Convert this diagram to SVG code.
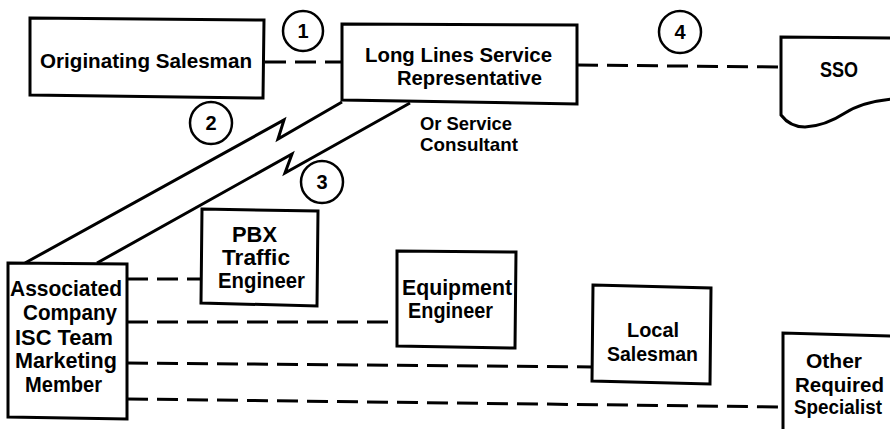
<svg xmlns="http://www.w3.org/2000/svg" width="890" height="429" viewBox="0 0 890 429">
<style>
.bx{fill:#fff;stroke:#000;stroke-width:3;stroke-linejoin:miter}
.ln{fill:none;stroke:#000;stroke-width:3}
.ds{fill:none;stroke:#000;stroke-width:3;stroke-dasharray:21 9}
.ci{fill:#fff;stroke:#000;stroke-width:2.5}
text{font-family:"Liberation Sans",Arial,sans-serif;font-weight:bold;fill:#000}
.t20{font-size:21px}
.t21{font-size:21.5px}
.t19{font-size:20px}
.num{font-size:20px;text-anchor:middle}
.sm{font-size:19px}
</style>
<rect width="890" height="429" fill="#fff"/>
<g id="connectors">
<path class="ds" d="M265,62 L342,62"/>
<path class="ds" d="M577,65 L781,67"/>
<path class="ds" d="M127,279 L202,279"/>
<path class="ds" d="M127,322 L397,322"/>
<path class="ds" d="M127,363 L593,367"/>
<path class="ds" d="M127,399 L783,407"/>
<path class="ln" d="M342,102 L278,139 L284,120 L25,263"/>
<path class="ln" d="M410,103 L285,173 L292,154 L97,263"/>
</g>
<g id="label1"><circle class="ci" cx="303" cy="31" r="20"/><text class="num" x="303" y="38">1</text></g>
<g id="label2"><circle class="ci" cx="211" cy="123" r="21"/><text class="num" x="211" y="130">2</text></g>
<g id="label3"><circle class="ci" cx="322" cy="182" r="21"/><text class="num" x="322" y="189">3</text></g>
<g id="label4"><circle class="ci" cx="680" cy="32" r="21"/><text class="num" x="680" y="39">4</text></g>
<g id="originating-salesman">
<path class="bx" d="M30,18 L264,20 L263,98 L30,95 Z"/>
<text class="t20" x="40" y="68" textLength="212" lengthAdjust="spacingAndGlyphs">Originating Salesman</text>
</g>
<g id="long-lines">
<path class="bx" d="M342,24 L577,25 L577,104 L342,100 Z"/>
<text class="t20" x="365" y="62" textLength="187" lengthAdjust="spacingAndGlyphs">Long Lines Service</text>
<text class="t20" x="397" y="85" textLength="145" lengthAdjust="spacingAndGlyphs">Representative</text>
<text class="sm" x="420" y="130" textLength="92" lengthAdjust="spacingAndGlyphs">Or Service</text>
<text class="sm" x="420" y="151" textLength="98" lengthAdjust="spacingAndGlyphs">Consultant</text>
</g>
<g id="sso">
<path class="bx" d="M892,38 L781,37 L781,115 Q790,127 805,127 Q825,126 845,113 Q862,102 892,99"/>
<text x="820" y="77" style="font-size:22px" textLength="38" lengthAdjust="spacingAndGlyphs">SSO</text>
</g>
<g id="associated-company">
<path class="bx" d="M8,263 L127,264 L127,419 L8,417 Z"/>
<text class="t21" x="10" y="296" textLength="112" lengthAdjust="spacingAndGlyphs">Associated</text>
<text class="t21" x="23" y="320" textLength="94" lengthAdjust="spacingAndGlyphs">Company</text>
<text class="t21" x="15" y="345" textLength="98" lengthAdjust="spacingAndGlyphs">ISC Team</text>
<text class="t21" x="15" y="368" textLength="102" lengthAdjust="spacingAndGlyphs">Marketing</text>
<text class="t21" x="25" y="392" textLength="77" lengthAdjust="spacingAndGlyphs">Member</text>
</g>
<g id="pbx-traffic-engineer">
<path class="bx" d="M202,209 L318,211 L317,306 L201,303 Z"/>
<text class="t21" x="232" y="242" textLength="45" lengthAdjust="spacingAndGlyphs">PBX</text>
<text class="t21" x="222" y="265" textLength="68" lengthAdjust="spacingAndGlyphs">Traffic</text>
<text class="t21" x="218" y="288" textLength="87" lengthAdjust="spacingAndGlyphs">Engineer</text>
</g>
<g id="equipment-engineer">
<path class="bx" d="M397,251 L516,252 L515,348 L397,346 Z"/>
<text class="t21" x="402" y="295" textLength="110" lengthAdjust="spacingAndGlyphs">Equipment</text>
<text class="t21" x="408" y="318" textLength="85" lengthAdjust="spacingAndGlyphs">Engineer</text>
</g>
<g id="local-salesman">
<path class="bx" d="M593,285 L711,288 L710,384 L592,381 Z"/>
<text class="t20" x="627" y="337" textLength="52" lengthAdjust="spacingAndGlyphs">Local</text>
<text class="t20" x="607" y="361" textLength="91" lengthAdjust="spacingAndGlyphs">Salesman</text>
</g>
<g id="other-required-specialist">
<path class="bx" d="M892,336 L783,333 L783,432"/>
<text class="t19" x="806" y="368" textLength="56" lengthAdjust="spacingAndGlyphs">Other</text>
<text class="t19" x="795" y="392" textLength="89" lengthAdjust="spacingAndGlyphs">Required</text>
<text class="t19" x="794" y="414" textLength="88" lengthAdjust="spacingAndGlyphs">Specialist</text>
</g>
</svg>
